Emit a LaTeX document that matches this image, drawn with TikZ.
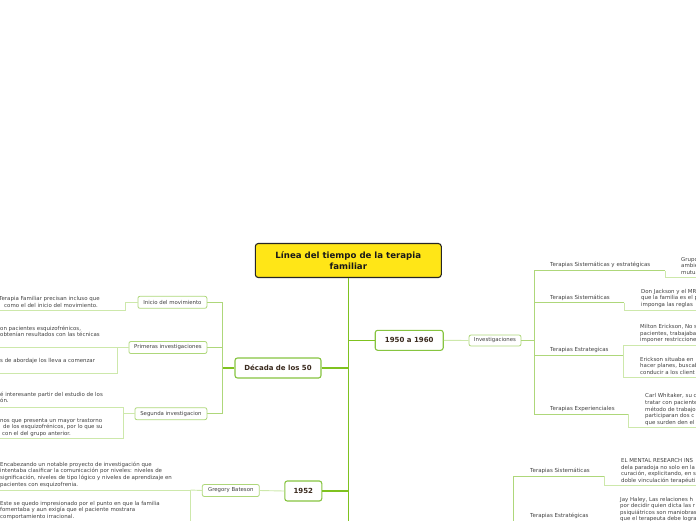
\documentclass[tikz,border=0pt]{standalone}
\usepackage{fontspec}
\setmainfont{DejaVu Sans}
\definecolor{trunk}{HTML}{7FC21F}
\definecolor{nodebd}{HTML}{86C440}
\definecolor{mid}{HTML}{AED77A}
\definecolor{pale}{HTML}{CDE8AB}
\definecolor{brn}{HTML}{3A2A1E}
\definecolor{gtext}{HTML}{404040}
\definecolor{ttl}{HTML}{FFE617}
\tikzset{
 titlebox/.style={draw=black!85, line width=1.1pt, fill=ttl, rounded corners=3pt,
   font=\bfseries\fontsize{8.6}{10.6}\selectfont, align=center, minimum width=186pt,
   minimum height=34pt, text=black!90, inner sep=0pt},
 major/.style={draw=nodebd, line width=1.1pt, fill=white, rounded corners=2.5pt,
   font=\bfseries\fontsize{7}{8}\selectfont, text=brn, minimum height=20pt, inner sep=0pt},
 minor/.style={draw=mid, line width=0.8pt, fill=white, rounded corners=2pt,
   font=\fontsize{5.4}{6}\selectfont, text=gtext, minimum height=12pt, inner sep=0pt},
 leaf/.style={font=\fontsize{5.45}{6.6}\selectfont, text=gtext, align=left, inner sep=0pt, anchor=north west},
 lab/.style={font=\fontsize{5.5}{6}\selectfont, text=gtext, inner sep=0pt, anchor=base west},
 tk/.style={draw=trunk, line width=1.1pt},
 md/.style={draw=mid, line width=0.9pt},
 pl/.style={draw=pale, line width=0.9pt},
}
\begin{document}
\begin{tikzpicture}[x=1pt,y=-1pt]
\useasboundingbox (0,0) rectangle (696,520);
\clip (0,0) rectangle (696,520);

% ---------- coordinates ----------
\coordinate (trunkEnd) at (348.3,530);
\coordinate (jL) at (222.5,368);
\coordinate (left) at (-5,0);
\coordinate (rightE) at (705,0);
\coordinate (cI) at (125,310);
\coordinate (cP) at (117,373);
\coordinate (cS1) at (123,407.5);
\coordinate (cS2) at (123,438);
\coordinate (cB) at (190.5,490);
\coordinate (cBd) at (190.5,530);
\coordinate (jR) at (534,340.5);
\coordinate (uSE) at (534,270.7);
\coordinate (uS) at (534,302.7);
\coordinate (uE) at (534,355.7);
\coordinate (uX) at (534,414.3);
\coordinate (bSE) at (665,270.7);
\coordinate (bSEd) at (665,277.3);
\coordinate (bS) at (624.3,302.7);
\coordinate (bSd) at (624.3,310);
\coordinate (bE) at (623.3,355.7);
\coordinate (bEu) at (623.3,345.7);
\coordinate (bEd) at (623.3,377.7);
\coordinate (bX) at (628.3,414.3);
\coordinate (bXd) at (628.3,427.7);
\coordinate (bv) at (513.3,530);
\coordinate (uS2) at (513.3,476);
\coordinate (bS2) at (604.3,476);
\coordinate (bS2d) at (604.3,485.3);

% ---------- nodes ----------
\node[titlebox] (title) at (348.3,260.5) {Línea del tiempo de la terapia\\familiar};
\node[major, minimum width=68pt] (y1950) at (409.2,340.3) {1950 a 1960};
\node[major, minimum width=86pt] (d50) at (278,368) {Década de los 50};
\node[major, minimum width=37pt] (y1952) at (303.3,491) {1952};
\node[minor, minimum width=69pt, anchor=east] (inicio) at (207.3,302.3) {Inicio del movimiento};
\node[minor, minimum width=78pt, anchor=east] (prim) at (207.3,347.5) {Primeras investigaciones};
\node[minor, minimum width=72pt, anchor=east] (seg) at (207.3,413.7) {Segunda investigacion};
\node[minor, minimum width=57pt] (bateson) at (230.8,490.5) {Gregory Bateson};
\node[minor, minimum width=52pt, minimum height=11pt] (invest) at (495,340.5) {Investigaciones};

% labels (right)
\node[lab] (lSE) at (550,266.6) {Terapias Sistemáticas y estratégicas};
\node[lab] (lS) at (550,299.6) {Terapias Sistemáticas};
\node[lab] (lE) at (550,351.6) {Terapias Estrategicas};
\node[lab] (lX) at (550,410.6) {Terapias Experienciales};
\node[lab] (lS2) at (530,472.6) {Terapias Sistemáticas};
\node[lab] (lE2) at (530,517.3) {Terapias Estratégicas};

% leaf texts (left)
\node[leaf] (tIA) at (-1,296.3) {Terapia Familiar precisan incluso que\\\hspace*{5pt}como el del inicio del movimiento.};
\node[leaf] (tPA) at (0,325.8) {on pacientes esquizofrénicos,\\obtenían resultados con las técnicas};
\node[leaf] (tPB) at (0,358.5) {s de abordaje los lleva a comenzar};
\node[leaf] (tSA) at (0,391.8) {é interesante partir del estudio de los\\ón.};
\node[leaf] (tSB) at (0,418) {nos que presenta un mayor trastorno\\\hspace*{3pt}de los esquizofrénicos, por lo que su\\\hspace*{2pt}con el del grupo anterior.};
\node[leaf] (tBA) at (0,461.8) {Encabezando un notable proyecto de investigación que\\intentaba clasificar la comunicación por niveles: niveles de\\significación, niveles de tipo lógico y niveles de aprendizaje en\\pacientes con esquizofrenia.};
\node[leaf] (tBB) at (0,500.8) {Este se quedo impresionado por el punto en que la familia\\fomentaba y aun exigía que el paciente mostrara\\comportamiento irracional.};

% leaf texts (right)
\node[leaf] (tSE) at (681,256.8) {Grupo\\ambiente\\mutua};
\node[leaf] (tDJ) at (641,288.8) {Don Jackson y el MRI\\que la familia es el p\\imponga las reglas};
\node[leaf] (tME) at (640,324.2) {Milton Erickson, No s\\pacientes, trabajaba\\imponer restricciones};
\node[leaf] (tES) at (640,356.8) {Erickson situaba en\\hacer planes, buscab\\conducir a los client};
\node[leaf] (tCW) at (645,393.5) {Carl Whitaker, su c\\tratar con paciente\\método de trabajo\\participaran dos c\\que surden den el};
\node[leaf] (tMR) at (621,458.2) {EL MENTAL RESEARCH INS\\dela paradoja no solo en la\\curación, explicitando, en s\\doble vinculación terapéuti};
\node[leaf] (tJH) at (620,496.8) {Jay Haley, Las relaciones h\\por decidir quien dicta las r\\psiquiátricos son maniobras\\que el terapeuta debe lograr};

% ---------- connectors ----------
\draw[tk] (title.south) -- (trunkEnd);
\draw[tk] (y1950.west) -- (y1950.west -| trunkEnd);
\draw[tk] (d50.east) -- (d50.east -| trunkEnd);
\draw[tk] (y1952.east) -- (y1952.east -| trunkEnd);
\draw[tk] (d50.west) -- (jL);
\draw[md] (jL |- inicio.east) -- (jL |- seg.east);
\draw[md] (inicio.east) -- (inicio.east -| jL);
\draw[md] (prim.east) -- (prim.east -| jL);
\draw[md] (seg.east) -- (seg.east -| jL);
\draw[pl] (inicio.west) -| (cI) -- (cI -| left);
\draw[pl] (prim.west) -- (prim.west -| left);
\draw[pl] (prim.west -| cP) -- (cP) -- (cP -| left);
\draw[pl] (seg.west) -- (seg.west -| cS1);
\draw[pl] (cS1 -| left) -- (cS1) -- (cS2) -- (cS2 -| left);
\draw[pl] (bateson.east) -- (y1952.west);
\draw[pl] (bateson.west) -- (cB);
\draw[pl] (cB -| left) -- (cB) -- (cBd);
\draw[pl] (y1950.east) -- (invest.west);
\draw[md] (invest.east) -- (jR);
\draw[md] (uSE) -- (uX);
\draw[md] (uSE) -- (bSE);
\draw[pl] (bSE) -- (bSEd) -- (bSEd -| rightE);
\draw[md] (uS) -- (bS);
\draw[pl] (bS) -- (bSd) -- (bSd -| rightE);
\draw[md] (uE) -- (bE);
\draw[pl] (bEu -| rightE) -- (bEu) -- (bEd) -- (bEd -| rightE);
\draw[md] (uX) -- (bX);
\draw[pl] (bX) -- (bXd) -- (bXd -| rightE);
\draw[md] (bv) -- (uS2) -- (bS2);
\draw[pl] (bS2) -- (bS2d) -- (bS2d -| rightE);
\end{tikzpicture}
\end{document}
